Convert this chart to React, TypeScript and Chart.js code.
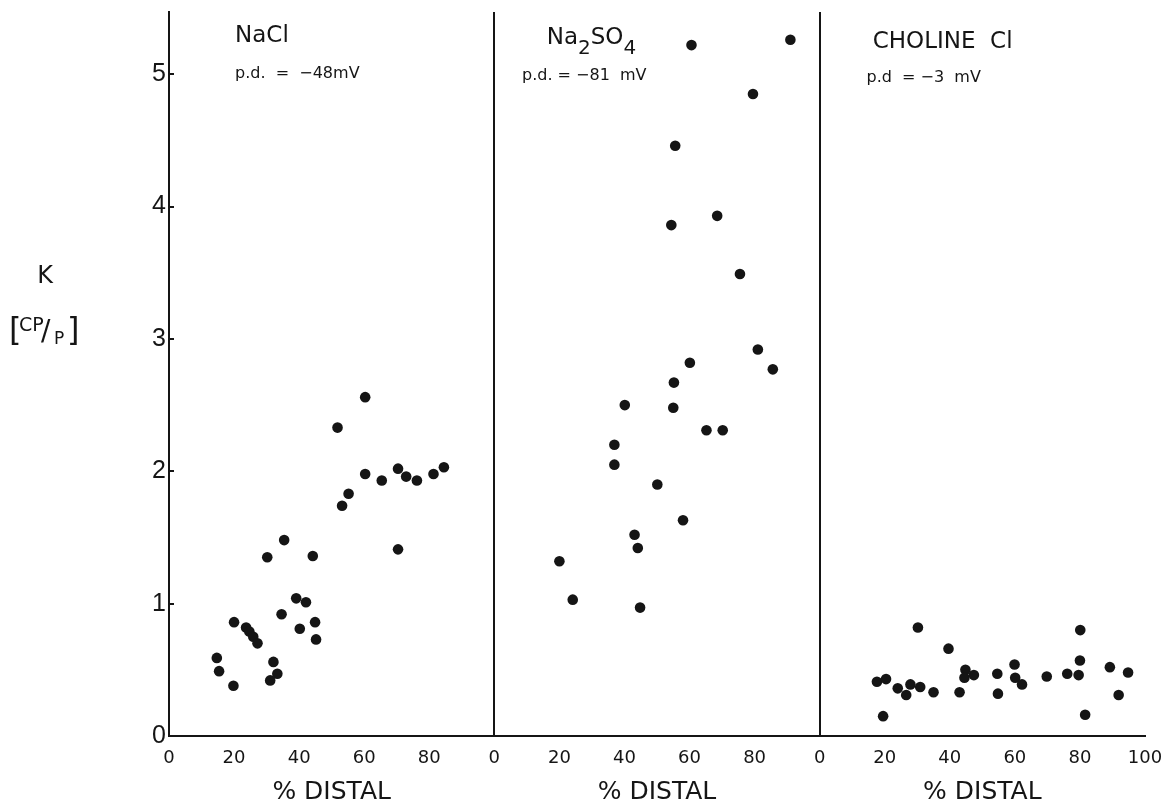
import React, { useEffect, useRef } from "react";
import { Chart, registerables } from "chart.js";

Chart.register(...registerables);

// ---- data (x = % distal, y = K [CP/P]) ----
const naclX = [14.7, 15.4, 19.8, 20.0, 23.7, 24.7, 25.9, 27.2, 32.1, 33.3, 31.1, 34.6, 39.1, 42.1, 40.2, 44.9, 45.2, 30.2, 35.4, 44.2, 51.8, 60.3, 55.2, 53.2, 60.3, 65.4, 70.4, 72.9, 76.2, 81.3, 84.5, 70.4];
const naclY = [0.59, 0.49, 0.38, 0.86, 0.82, 0.79, 0.75, 0.70, 0.56, 0.47, 0.42, 0.92, 1.04, 1.01, 0.81, 0.86, 0.73, 1.35, 1.48, 1.36, 2.33, 2.56, 1.83, 1.74, 1.98, 1.93, 2.02, 1.96, 1.93, 1.98, 2.03, 1.41];

const na2so4X = [60.6, 91.0, 79.5, 55.6, 54.4, 68.5, 75.5, 81.0, 60.1, 55.2, 85.6, 40.1, 55.0, 65.2, 70.2, 36.9, 36.9, 50.1, 58.0, 43.1, 44.1, 20.0, 24.1, 44.8];
const na2so4Y = [5.22, 5.26, 4.85, 4.46, 3.86, 3.93, 3.49, 2.92, 2.82, 2.67, 2.77, 2.50, 2.48, 2.31, 2.31, 2.20, 2.05, 1.90, 1.63, 1.52, 1.42, 1.32, 1.03, 0.97];

const cholineX = [30.2, 39.6, 80.1, 80.0, 89.2, 94.8, 17.6, 20.4, 19.5, 24.0, 26.6, 27.9, 30.9, 35.0, 43.0, 44.8, 44.5, 47.4, 54.6, 54.8, 59.9, 60.1, 62.2, 69.8, 76.1, 79.6, 81.6, 91.9];
const cholineY = [0.82, 0.66, 0.80, 0.57, 0.52, 0.48, 0.41, 0.43, 0.15, 0.36, 0.31, 0.39, 0.37, 0.33, 0.33, 0.50, 0.44, 0.46, 0.47, 0.32, 0.54, 0.44, 0.39, 0.45, 0.47, 0.46, 0.16, 0.31];

const panelOffsets = [0, 100, 200];
const xTickValues = [0, 20, 40, 60, 80, 100, 120, 140, 160, 180, 200, 220, 240, 260, 280, 300];
const yTickValues = [0, 1, 2, 3, 4, 5];
const panelTitles = ["NaCl", "Na2SO4", "CHOLINE  Cl"];
const panelPd = ["p.d.  =  \u221248mV", "p.d. = \u221281  mV", "p.d  = \u22123  mV"];
const xAxisTitle = "% DISTAL";

const INK = "#151515";

const toPoints = (xs: number[], ys: number[], off: number) =>
  xs.map((x, i) => ({ x: x + off, y: ys[i] }));

const textPlugin = {
  id: "panelText",
  afterDraw(chart: any) {
    const { ctx } = chart;
    const xs = chart.scales.x;
    const ys = chart.scales.y;
    ctx.save();
    ctx.fillStyle = INK;
    ctx.textBaseline = "alphabetic";
    ctx.textAlign = "left";

    // Panel 1 title
    ctx.font = '23px "DejaVu Sans"';
    ctx.fillText(panelTitles[0], xs.getPixelForValue(20.3), ys.getPixelForValue(5.24));
    ctx.font = '16px "DejaVu Sans"';
    ctx.fillText(panelPd[0], xs.getPixelForValue(20.3), ys.getPixelForValue(4.97));

    // Panel 2 title with subscripts
    let px = xs.getPixelForValue(116.1);
    const by = ys.getPixelForValue(5.23);
    ctx.font = '23px "DejaVu Sans"';
    ctx.fillText("Na", px, by);
    px += ctx.measureText("Na").width;
    ctx.font = '20px "DejaVu Sans"';
    ctx.fillText("2", px, by + 10);
    px += ctx.measureText("2").width;
    ctx.font = '23px "DejaVu Sans"';
    ctx.fillText("SO", px, by);
    px += ctx.measureText("SO").width;
    ctx.font = '20px "DejaVu Sans"';
    ctx.fillText("4", px, by + 10);
    ctx.font = '16px "DejaVu Sans"';
    ctx.fillText(panelPd[1], xs.getPixelForValue(108.5), ys.getPixelForValue(4.96));

    // Panel 3 title
    ctx.font = '23px "DejaVu Sans"';
    ctx.fillText(panelTitles[2], xs.getPixelForValue(216.3), ys.getPixelForValue(5.2));
    ctx.font = '16px "DejaVu Sans"';
    ctx.fillText(panelPd[2], xs.getPixelForValue(214.4), ys.getPixelForValue(4.94));

    // x-axis titles
    ctx.textAlign = "center";
    ctx.textBaseline = "middle";
    ctx.font = '25px "DejaVu Sans"';
    panelOffsets.forEach((off) => {
      ctx.fillText(xAxisTitle, xs.getPixelForValue(off + 50), 792);
    });

    // y-axis title (horizontal)
    ctx.textAlign = "center";
    ctx.textBaseline = "alphabetic";
    ctx.font = '24px "DejaVu Sans"';
    ctx.fillText("K", 45, 283);
    ctx.textAlign = "left";
    ctx.font = '32px "DejaVu Sans"';
    ctx.fillText("[", 9, 340);
    ctx.font = '19px "DejaVu Sans"';
    ctx.fillText("CP", 19, 331);
    ctx.font = '28px "DejaVu Sans"';
    ctx.fillText("/", 41, 340);
    ctx.font = '17px "DejaVu Sans"';
    ctx.fillText("P", 54, 344);
    ctx.font = '32px "DejaVu Sans"';
    ctx.fillText("]", 67, 340);
    ctx.restore();
  },
};

export default function App() {
  const canvasRef = useRef<HTMLCanvasElement | null>(null);

  useEffect(() => {
    if (!canvasRef.current) return;
    const pointStyle = {
      showLine: false,
      pointRadius: 5.3,
      pointHoverRadius: 5.3,
      pointBackgroundColor: INK,
      pointBorderWidth: 0,
      borderColor: INK,
      backgroundColor: INK,
    };
    const chart = new Chart(canvasRef.current, {
      type: "scatter",
      data: {
        datasets: [
          { label: "NaCl", data: toPoints(naclX, naclY, panelOffsets[0]), ...pointStyle },
          { label: "Na2SO4", data: toPoints(na2so4X, na2so4Y, panelOffsets[1]), ...pointStyle },
          { label: "Choline Cl", data: toPoints(cholineX, cholineY, panelOffsets[2]), ...pointStyle },
        ],
      },
      options: {
        animation: false,
        responsive: true,
        maintainAspectRatio: false,
        layout: { padding: { top: 12, right: 19, bottom: 0, left: 0 } },
        plugins: {
          legend: { display: false },
          tooltip: { enabled: false },
          title: { display: false },
        },
        scales: {
          x: {
            type: "linear",
            min: 0,
            max: 300,
            afterBuildTicks: (scale: any) => {
              scale.ticks = xTickValues.map((v) => ({ value: v }));
            },
            afterFit: (scale: any) => {
              scale.height = 69;
              scale.paddingLeft = 0;
              scale.paddingRight = 0;
            },
            ticks: {
              color: INK,
              padding: 12,
              maxRotation: 0,
              autoSkip: false,
              font: { family: "DejaVu Sans", size: 18 },
              callback: (v: any) => (Number(v) === 300 ? "100" : String(Number(v) % 100)),
            },
            grid: {
              display: true,
              drawOnChartArea: true,
              drawTicks: false,
              lineWidth: 2,
              color: (c: any) =>
                c.tick && (c.tick.value === 100 || c.tick.value === 200) ? INK : "rgba(0,0,0,0)",
            },
            border: { display: true, color: INK, width: 2 },
          },
          y: {
            type: "linear",
            min: 0,
            max: 5.47,
            afterBuildTicks: (scale: any) => {
              scale.ticks = yTickValues.map((v) => ({ value: v }));
            },
            afterFit: (scale: any) => {
              scale.width = 169;
              scale.paddingTop = 0;
              scale.paddingBottom = 0;
            },
            ticks: {
              color: INK,
              padding: 8,
              font: { family: "Liberation Sans", size: 25 },
              callback: (v: any) => String(v),
            },
            grid: {
              display: true,
              drawOnChartArea: false,
              drawTicks: true,
              tickLength: -5,
              lineWidth: 2,
              color: (c: any) => (c.tick && c.tick.value === 0 ? "rgba(0,0,0,0)" : INK),
            },
            border: { display: true, color: INK, width: 2 },
          },
        },
      },
      plugins: [textPlugin],
    });
    return () => chart.destroy();
  }, []);

  return (
    <div style={{ position: "fixed", left: 0, top: 0, width: 1164, height: 805, background: "#fff" }}>
      <canvas ref={canvasRef} />
    </div>
  );
}
